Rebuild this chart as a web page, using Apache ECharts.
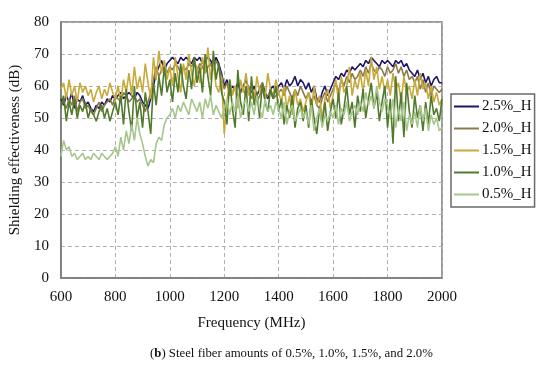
<!DOCTYPE html>
<html>
<head>
<meta charset="utf-8">
<script src="https://cdn.jsdelivr.net/npm/echarts@6/dist/echarts.min.js"></script>
<style>html,body{margin:0;padding:0;background:#fff}#c{width:550px;height:373px}</style>
</head>
<body>
<div id="c"></div>
<script>
const seriesNames = ['2.5%_H', '2.0%_H', '1.5%_H', '1.0%_H', '0.5%_H'];
const xStart = 600, xStep = 10;
const xTicks = [600, 800, 1000, 1200, 1400, 1600, 1800, 2000];

const se25 = [
56,54,57,55,58,53,56,55,57,54,
55,53,52,54,53,55,54,56,55,57,
56,57,58,56,57,58,57,56,58,57,
55,54,53,56,60,64,66,68,65,67,
68,69,68,67,69,68,69,68,67,69,
68,69,67,68,69,68,66,69,67,64,
60,62,58,60,59,61,58,60,62,59,
58,60,57,59,61,58,56,59,60,58,
60,61,59,62,60,61,63,60,62,61,
59,61,58,60,56,55,58,60,57,59,
61,63,62,64,63,65,64,66,65,66,
67,66,68,67,69,68,67,66,68,67,
68,67,66,68,67,68,66,67,65,64,
63,65,62,64,61,63,60,62,63,61,
61];
const se20 = [
57,55,53,56,54,57,52,55,56,53,
54,52,51,53,55,52,54,55,56,54,
57,56,55,58,57,55,56,57,55,56,
54,52,55,58,62,66,63,65,67,64,
66,65,67,66,64,66,65,67,66,68,
65,67,66,64,66,67,65,68,66,63,
59,61,57,58,60,56,58,59,57,60,
56,58,55,57,59,56,57,58,56,57,
58,59,57,60,58,56,59,57,60,58,
56,58,55,57,54,53,56,58,55,57,
59,61,58,62,60,63,61,64,62,63,
65,63,66,64,67,65,64,66,65,63,
66,64,65,67,64,66,63,65,62,63,
61,63,59,62,58,61,57,60,59,58,
59];
const se15 = [
59,61,56,62,57,60,55,61,58,60,
57,59,55,58,60,56,59,57,61,58,
56,60,55,62,58,64,57,66,59,63,
58,67,61,56,69,62,71,64,68,62,
66,60,69,63,58,67,62,70,64,60,
66,61,69,64,72,62,67,60,58,63,
45,55,62,57,60,53,62,58,64,57,
60,55,63,58,61,56,64,59,57,62,
58,55,60,53,57,51,59,54,56,52,
55,58,52,60,54,57,50,56,59,53,
57,62,55,63,58,60,66,57,62,59,
64,58,65,60,69,62,66,59,63,58,
62,57,64,59,61,55,63,58,60,56,
62,57,64,59,61,56,60,55,58,54,
56];
const se10 = [
53,57,49,55,51,56,50,54,52,55,
50,53,51,49,52,54,50,53,49,52,
55,51,57,48,59,52,46,60,50,55,
47,58,52,45,61,54,63,57,66,58,
62,55,64,58,67,60,56,65,59,69,
61,66,58,70,63,57,71,62,67,58,
55,48,62,53,47,65,55,51,60,49,
63,54,58,50,61,55,52,59,56,60,
52,56,48,54,50,57,47,53,55,49,
54,47,56,50,45,53,48,55,46,52,
56,50,58,48,53,60,51,55,47,57,
52,59,50,56,61,53,58,49,55,60,
47,56,42,63,49,58,44,61,52,47,
57,50,54,46,55,48,57,51,53,49,
56];
const se05 = [
38,43,40,41,38,39,37,38,39,37,
38,37,39,38,37,39,38,37,38,39,
41,38,44,40,46,42,48,43,50,45,
42,38,35,37,36,42,44,43,48,50,
51,53,50,54,52,55,53,51,56,54,
52,55,50,56,53,57,51,54,52,50,
53,56,51,55,52,57,50,54,56,52,
55,51,57,53,50,56,52,54,51,55,
53,50,55,48,52,54,49,51,53,50,
52,48,54,46,50,53,47,51,49,52,
50,54,48,53,51,55,49,52,54,51,
55,52,58,54,57,53,60,55,52,56,
54,50,56,47,53,49,55,46,51,48,
52,47,54,49,53,46,51,48,50,46,
47];

const allValues = [se25, se20, se15, se10, se05];
const colors = ['#1c1766', '#8b7a4c', '#c8aa3c', '#527a2c', '#a6c68c'];
const FONT = '"Liberation Serif", "Times New Roman", serif';

function toPairs(vals) {
  return vals.map((v, i) => [xStart + i * xStep, v]);
}

const chart = echarts.init(document.getElementById('c'), null, {renderer: 'canvas'});
chart.setOption({
  animation: false,
  backgroundColor: '#fff',
  grid: {left: 58, top: 22, right: 108, bottom: 95, show: true, borderColor: '#7a7a7a', borderWidth: 1.5, backgroundColor: 'transparent'},
  xAxis: {
    type: 'value', min: 600, max: 2000, interval: 200,
    name: 'Frequency (MHz)', nameLocation: 'middle', nameGap: 38,
    nameTextStyle: {fontFamily: FONT, fontSize: 15, color: '#111'},
    axisLine: {show: true, lineStyle: {color: '#7a7a7a', width: 1.5}},
    axisTick: {show: false},
    axisLabel: {fontFamily: FONT, fontSize: 15, color: '#111', margin: 12, formatter: v => String(v)},
    splitLine: {show: true, lineStyle: {color: '#b0b0b0', type: [4, 3], width: 1}}
  },
  yAxis: {
    type: 'value', min: 0, max: 80, interval: 10,
    name: 'Shielding effectiveness (dB)', nameLocation: 'middle', nameGap: 32,
    nameTextStyle: {fontFamily: FONT, fontSize: 15, color: '#111'},
    axisLine: {show: true, lineStyle: {color: '#7a7a7a', width: 1.5}},
    axisTick: {show: false},
    axisLabel: {fontFamily: FONT, fontSize: 15, color: '#111', margin: 12},
    splitLine: {show: true, lineStyle: {color: '#b0b0b0', type: [4, 3], width: 1}}
  },
  legend: {
    orient: 'vertical', left: 451, top: 94,
    padding: [5, 3, 5, 3], itemGap: 7,
    itemWidth: 25, itemHeight: 2,
    icon: 'rect',
    borderColor: '#6a6a6a', borderWidth: 1.5,
    textStyle: {fontFamily: FONT, fontSize: 15, color: '#111', padding: [0, 0, 0, -2]},
    data: seriesNames
  },
  series: seriesNames.map((n, k) => ({
    name: n, type: 'line', data: toPairs(allValues[k]),
    showSymbol: false, symbol: 'none',
    lineStyle: {color: colors[k], width: 1.6},
    itemStyle: {color: colors[k]},
    z: 2 + k
  })),
  graphic: [{
    type: 'text', left: 150, top: 347,
    style: {
      text: '({b|b}) Steel fiber amounts of 0.5%, 1.0%, 1.5%, and 2.0%',
      font: '12.8px ' + FONT, fill: '#111',
      rich: {b: {fontFamily: FONT, fontSize: 12.8, fontWeight: 'bold', fill: '#111'}}
    }
  }]
});
</script>
</body>
</html>
